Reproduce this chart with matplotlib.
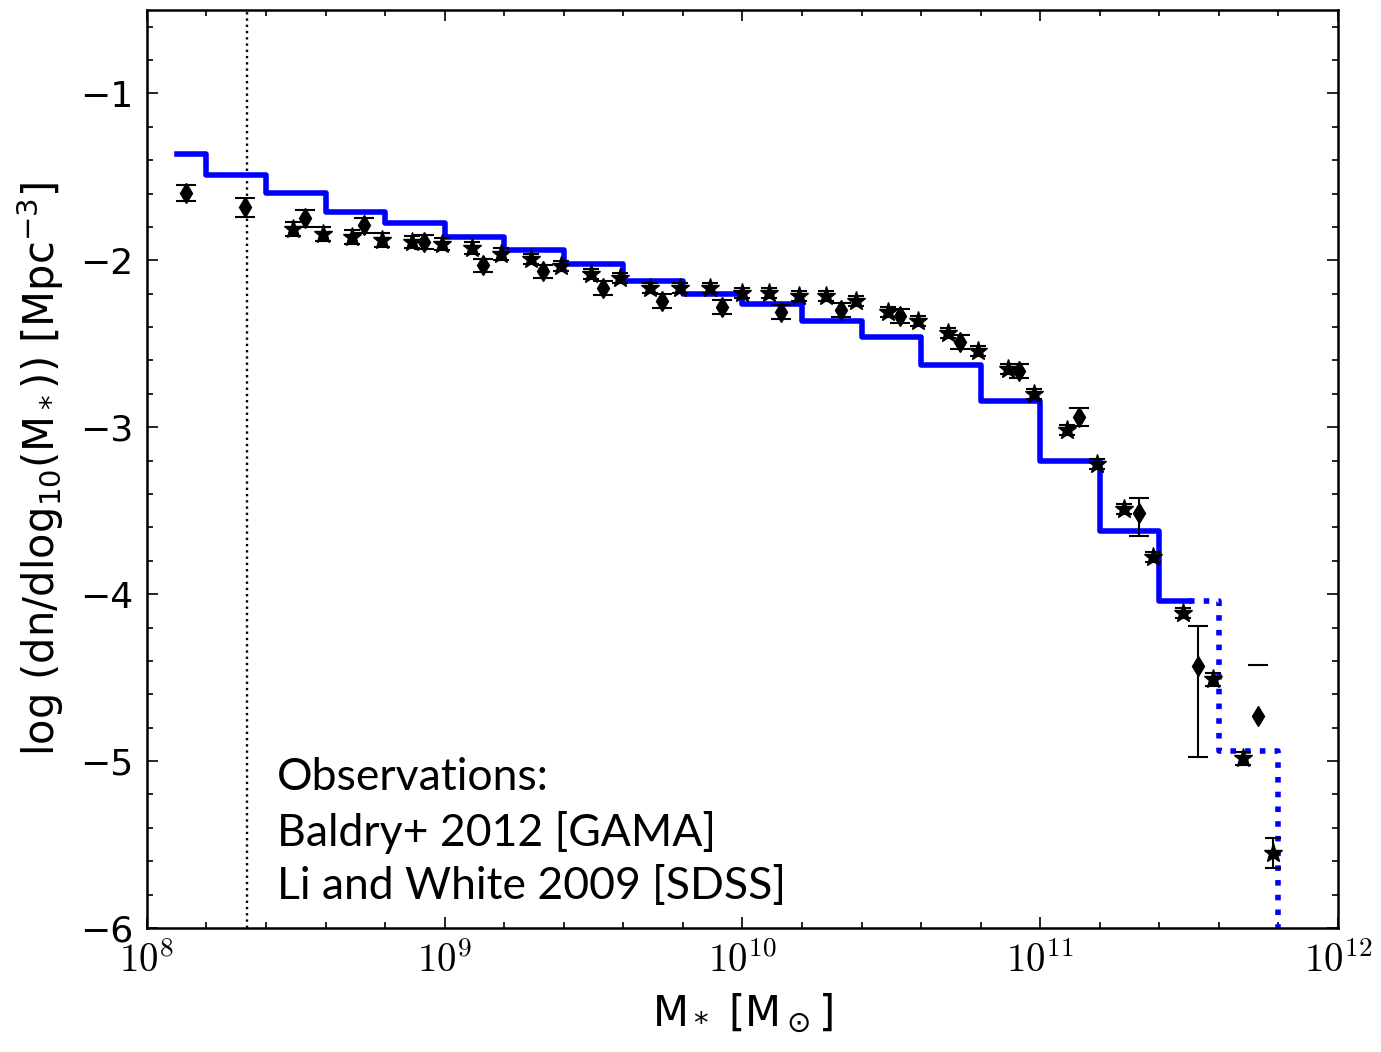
import numpy as np
import matplotlib
matplotlib.use('Agg')
import matplotlib.pyplot as plt
from matplotlib.ticker import MultipleLocator, FuncFormatter

# model mass function (step, bin centres in log10 M)
model_x = [8.1, 8.3, 8.5, 8.7, 8.9, 9.1, 9.3, 9.5, 9.7, 9.9, 10.1, 10.3, 10.5,
           10.7, 10.9, 11.1, 11.3, 11.5]
model_y = [-1.365, -1.49, -1.596, -1.71, -1.776, -1.861, -1.939, -2.021, -2.124,
           -2.20, -2.26, -2.364, -2.459, -2.625, -2.842, -3.20, -3.624, -4.038]
# poorly sampled high-mass bins (dotted)
tail_x = [11.5, 11.7, 11.9]
tail_y = [-4.038, -4.94, -7.0]

# Baldry+ 2012 (GAMA)
bal_x = [8.49, 8.59, 8.69, 8.79, 8.89, 8.99, 9.09, 9.19, 9.29, 9.39, 9.49, 9.59,
         9.69, 9.79, 9.89, 10.0, 10.09, 10.19, 10.28, 10.38, 10.49, 10.59, 10.69,
         10.79, 10.89, 10.98, 11.09, 11.19, 11.28, 11.38, 11.48, 11.58, 11.68, 11.78]
bal_y = [-1.813, -1.843, -1.861, -1.879, -1.891, -1.903, -1.927, -1.963, -1.993,
         -2.035, -2.083, -2.106, -2.166, -2.166, -2.166, -2.194, -2.194, -2.214,
         -2.214, -2.244, -2.308, -2.364, -2.434, -2.543, -2.651, -2.80, -3.016,
         -3.219, -3.488, -3.775, -4.11, -4.511, -4.983, -5.551]
bal_err = [0.04, 0.04, 0.04, 0.04, 0.035, 0.035, 0.035, 0.035, 0.03, 0.03, 0.03,
           0.03, 0.03, 0.03, 0.03, 0.03, 0.03, 0.03, 0.03, 0.03, 0.03, 0.03, 0.03,
           0.03, 0.03, 0.03, 0.03, 0.03, 0.03, 0.03, 0.03, 0.04, 0.04, 0.09]

# Li and White 2009 (SDSS)
li_x = [8.13, 8.33, 8.53, 8.73, 8.93, 9.13, 9.33, 9.53, 9.73, 9.93, 10.13, 10.33,
        10.53, 10.73, 10.93, 11.13, 11.33, 11.53, 11.73]
li_y = [-1.598, -1.682, -1.748, -1.789, -1.891, -2.029, -2.065, -2.166, -2.244,
        -2.280, -2.310, -2.298, -2.334, -2.489, -2.663, -2.938, -3.512, -4.433, -4.732]
li_err_lo = [0.047, 0.057, 0.05, 0.045, 0.04, 0.04, 0.04, 0.04, 0.04, 0.04, 0.04,
             0.04, 0.04, 0.04, 0.04, 0.052, 0.14, 0.54, 0.0]
li_err_hi = [0.047, 0.057, 0.05, 0.045, 0.04, 0.04, 0.04, 0.04, 0.04, 0.04, 0.04,
             0.04, 0.04, 0.04, 0.04, 0.052, 0.086, 0.24, 0.0]
# last Li & White bin: only an upper error cap is drawn
li_last_cap = 0.31

completeness_limit = 8.336

fig = plt.figure(figsize=(13.81, 10.52), dpi=100)
ax = fig.add_axes([0.1064, 0.1179, 0.8625, 0.8726])

ax.axvline(completeness_limit, color='k', linestyle=':', lw=1.7)

ax.step(model_x, model_y, where='mid', color='blue', lw=4)
ax.step(tail_x, tail_y, where='mid', color='blue', lw=4, linestyle=':')

ax.errorbar(bal_x, bal_y, yerr=bal_err, fmt='*', color='k', ms=14,
            capsize=6, elinewidth=1.5, capthick=1.5)
ax.errorbar(li_x[:-1], li_y[:-1], yerr=[li_err_lo[:-1], li_err_hi[:-1]], fmt='d',
            color='k', ms=10, capsize=7, elinewidth=1.5, capthick=1.5)
ax.plot(li_x[-1], li_y[-1], 'd', color='k', ms=10)
ax.plot(li_x[-1], li_y[-1] + li_last_cap, '_', color='k', ms=14, mew=1.5)

ax.set_xlim(8, 12)
ax.set_ylim(-6, -0.5)
ax.xaxis.set_major_locator(MultipleLocator(1))
ax.xaxis.set_minor_locator(MultipleLocator(0.2))
ax.yaxis.set_major_locator(MultipleLocator(1))
ax.yaxis.set_minor_locator(MultipleLocator(0.2))
ax.xaxis.set_major_formatter(FuncFormatter(lambda v, p: r'$10^{%d}$' % round(v)))
ax.yaxis.set_major_formatter(FuncFormatter(lambda v, p: '\u2212%d' % round(-v)))

ax.tick_params(which='both', direction='in', top=True, right=True, width=1.2)
ax.tick_params(which='major', length=8)
ax.tick_params(which='minor', length=4)
ax.tick_params(axis='y', labelsize=26, pad=10)
ax.tick_params(axis='x', labelsize=28, pad=10)
for lab in ax.get_xticklabels():
    lab.set_math_fontfamily('cm')
for s in ax.spines.values():
    s.set_linewidth(1.8)

ax.set_xlabel(r'M$_*$ [M$_\odot$]', fontsize=30, labelpad=8)
ax.set_ylabel(r'log (dn/dlog$_{10}$(M$_*$)) [Mpc$^{-3}$]', fontsize=30, labelpad=10)

ax.text(0.109, 0.1046, 'Observations:\nBaldry+ 2012 [GAMA]\nLi and White 2009 [SDSS]',
        transform=ax.transAxes, fontsize=32, family='Lato', va='center',
        linespacing=1.37)

fig.savefig('out.png', dpi=100)
